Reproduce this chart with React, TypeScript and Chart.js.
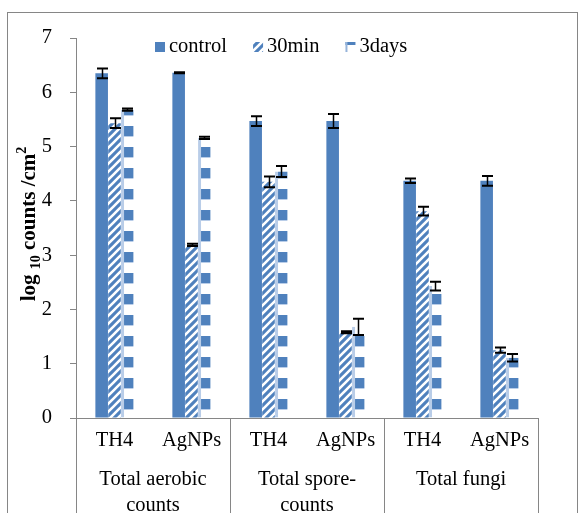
import React, { useEffect, useRef } from 'react';
import { Chart, registerables } from 'chart.js';

Chart.register(...registerables);

const categories = ['TH4', 'AgNPs', 'TH4', 'AgNPs', 'TH4', 'AgNPs'];
const groupLabels = [['Total aerobic', 'counts'], ['Total spore-', 'counts'], ['Total fungi']];
const seriesNames = ['control', '30min', '3days'];
const controlValues = [6.35, 6.36, 5.47, 5.47, 4.37, 4.37];
const min30Values = [5.43, 3.19, 4.35, 1.58, 3.81, 1.25];
const days3Values = [5.68, 5.16, 4.54, 1.68, 2.43, 1.11];
const controlErrors = [0.09, 0.01, 0.09, 0.13, 0.04, 0.09];
const min30Errors = [0.09, 0.02, 0.1, 0.02, 0.08, 0.05];
const days3Errors = [0.02, 0.02, 0.1, 0.15, 0.08, 0.07];
const yMin = 0;
const yMax = 7;

const BLUE = 'rgb(79,129,189)';
const LIGHT_BLUE = 'rgb(150,180,218)';
const PALE_BLUE = 'rgb(185,205,232)';
const GRAY = '#868686';
const FONT = '"Liberation Serif", "Times New Roman", serif';

function stripePattern(ctx: CanvasRenderingContext2D): CanvasPattern | string {
  const c = document.createElement('canvas');
  c.width = 8;
  c.height = 8;
  const g = c.getContext('2d');
  if (!g) return BLUE;
  g.fillStyle = BLUE;
  g.fillRect(0, 0, 8, 8);
  g.strokeStyle = '#ffffff';
  g.lineWidth = 2.6;
  g.beginPath();
  g.moveTo(-2, 10); g.lineTo(10, -2);
  g.moveTo(-2, 2); g.lineTo(2, -2);
  g.moveTo(6, 10); g.lineTo(10, 6);
  g.stroke();
  return ctx.createPattern(c, 'repeat') || BLUE;
}

function blockPattern(ctx: CanvasRenderingContext2D): CanvasPattern | string {
  const c = document.createElement('canvas');
  c.width = 4;
  c.height = 21;
  const g = c.getContext('2d');
  if (!g) return BLUE;
  g.fillStyle = '#ffffff';
  g.fillRect(0, 0, 4, 21);
  g.fillStyle = BLUE;
  g.fillRect(0, 0, 4, 10);
  g.fillStyle = PALE_BLUE;
  g.fillRect(0, 10, 4, 1);
  return ctx.createPattern(c, 'repeat') || BLUE;
}

export default function App() {
  const ref = useRef<HTMLCanvasElement | null>(null);

  useEffect(() => {
    const canvas = ref.current;
    if (!canvas) return;
    const ctx = canvas.getContext('2d');
    if (!ctx) return;
    const stripes = stripePattern(ctx);
    const blocks = blockPattern(ctx);
    const values = [controlValues, min30Values, days3Values];
    const errors = [controlErrors, min30Errors, days3Errors];

    const decor = {
      id: 'decor',
      beforeDraw(chart: any) {
        const c = chart.ctx;
        c.save();
        c.fillStyle = '#ffffff';
        c.fillRect(0, 0, chart.width, chart.height);
        c.strokeStyle = GRAY;
        c.lineWidth = 1;
        c.strokeRect(7.5, 12.5, 570, 600);
        c.restore();
      },
      afterDatasetsDraw(chart: any) {
        const c = chart.ctx;
        const ys = chart.scales.y;
        c.save();
        c.strokeStyle = '#000000';
        errors.forEach((errs, di) => {
          const meta = chart.getDatasetMeta(di);
          meta.data.forEach((bar: any, i: number) => {
            const v = values[di][i];
            const e = errs[i];
            const x = Math.round(bar.x) + 0.5;
            const top = ys.getPixelForValue(v + e);
            const bot = ys.getPixelForValue(v - e);
            const half = 5.5;
            c.lineWidth = 1.5;
            c.beginPath();
            c.moveTo(x, top);
            c.lineTo(x, bot);
            c.stroke();
            c.lineWidth = 2;
            c.beginPath();
            c.moveTo(x - half, top);
            c.lineTo(x + half, top);
            c.moveTo(x - half, bot);
            c.lineTo(x + half, bot);
            c.stroke();
          });
        });
        c.restore();
      },
      afterDraw(chart: any) {
        const c = chart.ctx;
        const xs = chart.scales.x;
        const area = chart.chartArea;
        c.save();
        c.strokeStyle = GRAY;
        c.lineWidth = 1;
        [-0.5, 1.5, 3.5, 5.5].forEach((b) => {
          const x = Math.round(xs.getPixelForValue(b)) + 0.5;
          c.beginPath();
          c.moveTo(x, area.bottom);
          c.lineTo(x, chart.height);
          c.stroke();
        });
        c.fillStyle = '#000000';
        c.font = `20.5px ${FONT}`;
        c.textAlign = 'center';
        c.textBaseline = 'middle';
        categories.forEach((lab, i) => {
          c.fillText(lab, xs.getPixelForValue(i), area.bottom + 23);
        });
        groupLabels.forEach((lines, gi) => {
          const x = (xs.getPixelForValue(gi * 2 - 0.5) + xs.getPixelForValue(gi * 2 + 1.5)) / 2;
          lines.forEach((ln, li) => {
            c.fillText(ln, x, area.bottom + 62 + li * 26);
          });
        });
        c.save();
        c.translate(35, 224);
        c.rotate(-Math.PI / 2);
        c.textAlign = 'left';
        c.textBaseline = 'alphabetic';
        const big = `bold 21px ${FONT}`;
        const small = `bold 14px ${FONT}`;
        const parts: [string, string, number][] = [
          ['log ', big, 0],
          ['10', small, 5],
          [' counts /cm', big, 0],
          ['2', small, -9],
        ];
        let total = 0;
        parts.forEach(([t, f]) => { c.font = f; total += c.measureText(t).width; });
        let px = -total / 2;
        parts.forEach(([t, f, dy]) => {
          c.font = f;
          c.fillText(t, px, dy);
          px += c.measureText(t).width;
        });
        c.restore();
        c.font = `20.5px ${FONT}`;
        c.textAlign = 'left';
        c.textBaseline = 'middle';
        let lx = 155;
        const ly = 47;
        seriesNames.forEach((name, i) => {
          const bx = lx;
          const by = ly - 5;
          if (i === 0) {
            c.fillStyle = BLUE;
            c.fillRect(bx, by, 10, 10);
          } else if (i === 1) {
            c.fillStyle = stripes as any;
            c.fillRect(bx, by, 10, 10);
          } else {
            c.fillStyle = '#ffffff';
            c.fillRect(bx, by, 10, 10);
            c.fillStyle = BLUE;
            c.fillRect(bx, by, 10, 3);
            c.fillStyle = LIGHT_BLUE;
            c.fillRect(bx, by, 2, 10);
          }
          c.fillStyle = '#000000';
          c.fillText(name, bx + 14, ly);
          lx = bx + 14 + c.measureText(name).width + 26;
        });
        c.restore();
      },
    };

    const chart = new Chart(canvas, {
      type: 'bar',
      data: {
        labels: categories,
        datasets: [
          { label: seriesNames[0], data: controlValues, backgroundColor: BLUE, borderWidth: 0 },
          { label: seriesNames[1], data: min30Values, backgroundColor: stripes as any, borderWidth: 0 },
          {
            label: seriesNames[2],
            data: days3Values,
            backgroundColor: blocks as any,
            borderColor: PALE_BLUE,
            borderWidth: { left: 3, right: 0, top: 0, bottom: 0 } as any,
            borderSkipped: false,
          },
        ],
      },
      options: {
        responsive: false,
        animation: false,
        devicePixelRatio: 1,
        layout: { padding: { left: 0, right: 49, top: 38, bottom: 0 } },
        plugins: {
          legend: { display: false },
          tooltip: { enabled: false },
          title: { display: false },
        },
        datasets: {
          bar: { categoryPercentage: 0.5, barPercentage: 0.98 },
        },
        scales: {
          x: {
            type: 'category',
            grid: { display: false },
            border: { display: true, color: GRAY, width: 1 },
            ticks: { display: false },
            afterFit: (s: any) => { s.height = 95; },
          },
          y: {
            min: yMin,
            max: yMax,
            ticks: {
              stepSize: 1,
              color: '#000000',
              padding: 18,
              font: { family: FONT, size: 20.5 },
            },
            grid: { drawOnChartArea: false, drawTicks: true, tickLength: 6, color: GRAY },
            border: { display: true, color: GRAY, width: 1 },
            afterFit: (s: any) => { s.width = 76; },
          },
        },
      },
      plugins: [decor],
    });
    return () => chart.destroy();
  }, []);

  return (
    <div style={{ position: 'fixed', left: 0, top: 0, width: 587, height: 513, background: '#fff' }}>
      <canvas ref={ref} width={587} height={513} style={{ width: 587, height: 513, display: 'block' }} />
    </div>
  );
}
